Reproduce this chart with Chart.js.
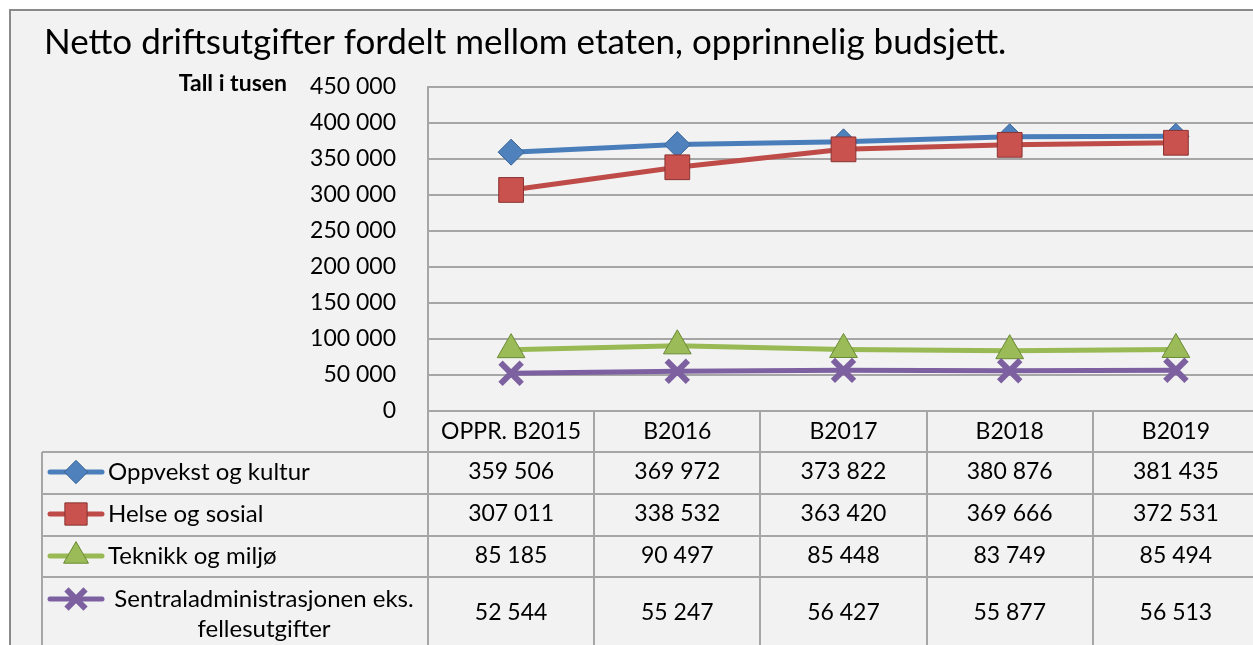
<!DOCTYPE html>
<html>
<head>
<meta charset="utf-8">
<script src="https://cdn.jsdelivr.net/npm/chart.js@4/dist/chart.umd.min.js"></script>
<style>
html,body{margin:0;padding:0;background:#fff;overflow:hidden;}
#wrap{position:absolute;left:0;top:0;width:1280px;height:645px;}
</style>
</head>
<body>
<div id="wrap"><canvas id="c" width="1280" height="645"></canvas></div>
<script>
const titleText = 'Netto driftsutgifter fordelt mellom etaten, opprinnelig budsjett.';
const unitLabel = 'Tall i tusen';
const categories = ['OPPR. B2015', 'B2016', 'B2017', 'B2018', 'B2019'];
const seriesNames = ['Oppvekst og kultur', 'Helse og sosial', 'Teknikk og miljø', 'Sentraladministrasjonen eks. fellesutgifter'];
const oppvekst = [359506, 369972, 373822, 380876, 381435];
const helse = [307011, 338532, 363420, 369666, 372531];
const teknikk = [85185, 90497, 85448, 83749, 85494];
const sentral = [52544, 55247, 56427, 55877, 56513];
const yMin = 0, yMax = 450000, yStep = 50000;

const FONT = 'Lato, "Open Sans", sans-serif';
function fmt(v){ return String(Math.round(v)).replace(/\B(?=(\d{3})+(?!\d))/g, ' '); }

const styles = [
  {line:'#4a7ebb', fill:'#4f81bd', border:'#3b6597', style:'rectRot', r:13, bw:1},
  {line:'#be4b48', fill:'#c9514e', border:'#8a3432', style:'rect', r:17.5, bw:1},
  {line:'#98b954', fill:'#9bbb59', border:'#6a8a33', style:'triangle', r:16, bw:1},
  {line:'#7d60a0', fill:'#7d60a0', border:'#7d60a0', style:'crossRot', r:15, bw:6}
];
const seriesData = [oppvekst, helse, teknikk, sentral];

const datasets = seriesData.map((d, i) => ({
  label: seriesNames[i],
  data: d,
  order: seriesData.length - i,
  borderColor: styles[i].line,
  backgroundColor: styles[i].fill,
  borderWidth: 5,
  pointStyle: styles[i].style,
  pointRadius: styles[i].r,
  pointHoverRadius: styles[i].r,
  pointBackgroundColor: styles[i].fill,
  pointBorderColor: styles[i].border,
  pointBorderWidth: styles[i].bw,
  tension: 0
}));

const ROW_TOP = [452, 494, 536, 577];
const ROW_MID = [472, 514, 556, 613];
const LEG_LEFT = 42;
const NUM_FONT = '23px ' + FONT;
const LAB_FONT = '24px ' + FONT;

const tablePlugin = {
  id: 'tablePlugin',
  beforeDraw(chart){
    const c = chart.ctx;
    c.save();
    c.fillStyle = '#ffffff';
    c.fillRect(0, 0, chart.width, chart.height);
    c.fillStyle = '#f2f2f2';
    c.fillRect(10, 10, chart.width, chart.height);
    c.strokeStyle = '#8a8a8a';
    c.lineWidth = 2;
    c.strokeRect(10, 10, chart.width + 20, chart.height + 20);
    c.fillStyle = '#000';
    c.font = '35px ' + FONT;
    c.textAlign = 'left';
    c.textBaseline = 'middle';
    c.fillText(titleText, 44, 43);
    c.font = 'bold 23px ' + FONT;
    c.textAlign = 'right';
    c.fillText(unitLabel, 287, 84);
    c.restore();
  },
  afterDraw(chart){
    const c = chart.ctx;
    const xs = chart.scales.x;
    const area = chart.chartArea;
    const n = categories.length;
    const colW = (area.right - area.left) / n;
    c.save();
    c.strokeStyle = '#a6a6a6';
    c.lineWidth = 2;
    for (let i = 0; i <= n; i++) {
      const x = Math.round(area.left + i * colW);
      c.beginPath(); c.moveTo(x, area.bottom); c.lineTo(x, chart.height + 5); c.stroke();
    }
    c.beginPath(); c.moveTo(LEG_LEFT, ROW_TOP[0]); c.lineTo(LEG_LEFT, chart.height + 5); c.stroke();
    ROW_TOP.forEach(y => {
      c.beginPath(); c.moveTo(LEG_LEFT, y); c.lineTo(chart.width, y); c.stroke();
    });
    c.fillStyle = '#000';
    c.font = NUM_FONT;
    c.textAlign = 'center';
    c.textBaseline = 'middle';
    categories.forEach((cat, i) => {
      c.fillText(cat, xs.getPixelForValue(i), 432);
    });
    seriesData.forEach((d, r) => {
      const yc = ROW_MID[r];
      c.font = NUM_FONT;
      c.fillStyle = '#000';
      d.forEach((v, i) => {
        c.textAlign = 'center';
        c.fillText(fmt(v), xs.getPixelForValue(i), yc);
      });
      const s = styles[r];
      const my = r === 3 ? 599 : yc;
      c.strokeStyle = s.line;
      c.lineWidth = 5;
      c.lineCap = 'round';
      c.beginPath(); c.moveTo(50, my); c.lineTo(102, my); c.stroke();
      c.lineCap = 'butt';
      c.fillStyle = s.fill;
      c.strokeStyle = s.border;
      c.lineWidth = s.bw;
      Chart.helpers.drawPoint(c, {pointStyle: s.style, radius: s.r * 0.9, rotation: 0, borderWidth: s.bw}, 76, my);
      c.fillStyle = '#000';
      c.font = LAB_FONT;
      if (r === 3) {
        const words = seriesNames[r].split(' ');
        const l1 = words.slice(0, 2).join(' ');
        const l2 = words.slice(2).join(' ');
        c.textAlign = 'center';
        c.fillText(l1, 264, 599);
        c.fillText(l2, 264, 629);
      } else {
        c.textAlign = 'left';
        c.fillText(seriesNames[r], 108, yc);
      }
    });
    c.restore();
  }
};

new Chart(document.getElementById('c'), {
  type: 'line',
  data: { labels: categories, datasets: datasets },
  plugins: [tablePlugin],
  options: {
    responsive: false,
    animation: false,
    devicePixelRatio: 1,
    layout: { padding: { top: 87, right: 17, left: 0, bottom: 0 } },
    plugins: { legend: { display: false }, title: { display: false }, tooltip: { enabled: false } },
    scales: {
      x: {
        offset: true,
        ticks: { display: false },
        grid: { display: false },
        border: { display: false },
        afterFit(s){ s.height = 234; }
      },
      y: {
        min: yMin, max: yMax,
        ticks: { stepSize: yStep, callback: v => fmt(v), color: '#000', font: { family: FONT, size: 23 }, padding: 32 },
        grid: { color: '#a6a6a6', lineWidth: 2, drawTicks: false },
        border: { display: true, color: '#a6a6a6', width: 2 },
        afterFit(s){ s.width = 428; }
      }
    }
  }
});
</script>
</body>
</html>
